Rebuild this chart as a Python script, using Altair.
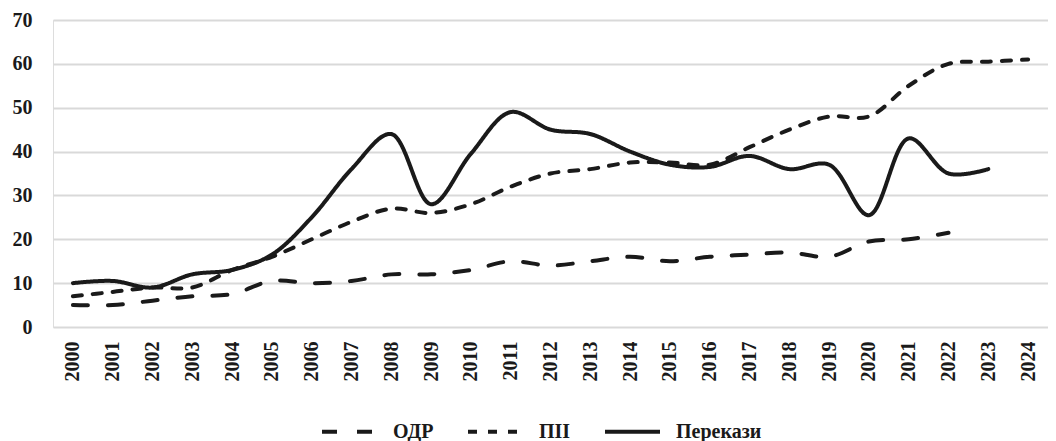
import altair as alt
import pandas as pd

years = [str(y) for y in range(2000, 2025)]
odr = [5, 5, 6, 7, 7.5, 10.5, 10, 10.5, 12, 12, 13, 15, 14, 15, 16, 15, 16, 16.5, 17, 16, 19.5, 20, 21.5, None, None]
pii = [7, 8, 9, 9, 13, 16, 20, 24, 27, 26, 28, 32, 35, 36, 37.5, 37.5, 37, 41, 45, 48, 48, 55, 60, 60.5, 61]
remit = [10, 10.5, 9, 12, 13, 16.5, 25, 36, 44, 28, 39.5, 49, 45, 44, 40, 37, 36.5, 39, 36, 37, 25.5, 43, 35, 36, None]

series = ["ОДР", "ПІІ", "Перекази"]
rows = []
for name, vals in zip(series, [odr, pii, remit]):
    for y, v in zip(years, vals):
        if v is not None:
            rows.append({"year": y, "value": v, "series": name})
df = pd.DataFrame(rows)

font = "Liberation Serif"

chart = alt.Chart(df).mark_line(
    interpolate="catmull-rom", strokeWidth=4, color="#1a1a1a", strokeCap="round"
).encode(
    x=alt.X("year:O", sort=years, title=None,
            scale=alt.Scale(paddingInner=0, paddingOuter=0.5),
            axis=alt.Axis(labelAngle=-90, labelFont=font, labelFontWeight="bold",
                          labelFontSize=20, labelColor="#1a1a1a", ticks=False,
                          domain=False, labelPadding=14, labelBaseline="middle",
                          labelAlign="right")),
    y=alt.Y("value:Q", title=None,
            scale=alt.Scale(domain=[0, 70], nice=False),
            axis=alt.Axis(values=[0, 10, 20, 30, 40, 50, 60, 70], labelFont=font,
                          labelFontWeight="bold", labelFontSize=20, labelColor="#1a1a1a",
                          ticks=False, domain=False, labelPadding=21,
                          gridColor="#d9d9d9", gridWidth=2)),
    strokeDash=alt.StrokeDash("series:N", sort=series,
        scale=alt.Scale(domain=series, range=[[15, 20], [9, 11], [1, 0]]),
        legend=alt.Legend(title=None, orient="none", direction="horizontal",
                          legendX=267, legendY=382, symbolType="stroke",
                          symbolSize=3025, symbolStrokeWidth=4,
                          symbolStrokeColor="#1a1a1a", labelFont=font,
                          labelFontWeight="bold", labelFontSize=20,
                          labelColor="#1a1a1a", columnPadding=26, labelOffset=14)),
).properties(
    width=995, height=307,
    autosize=alt.AutoSizeParams(type="none"),
    padding={"left": 45, "top": 12, "right": 0, "bottom": 114},
).configure_view(stroke=None).configure(background="white")

chart.save("out.html", embed_options={"renderer": "svg", "actions": False})
